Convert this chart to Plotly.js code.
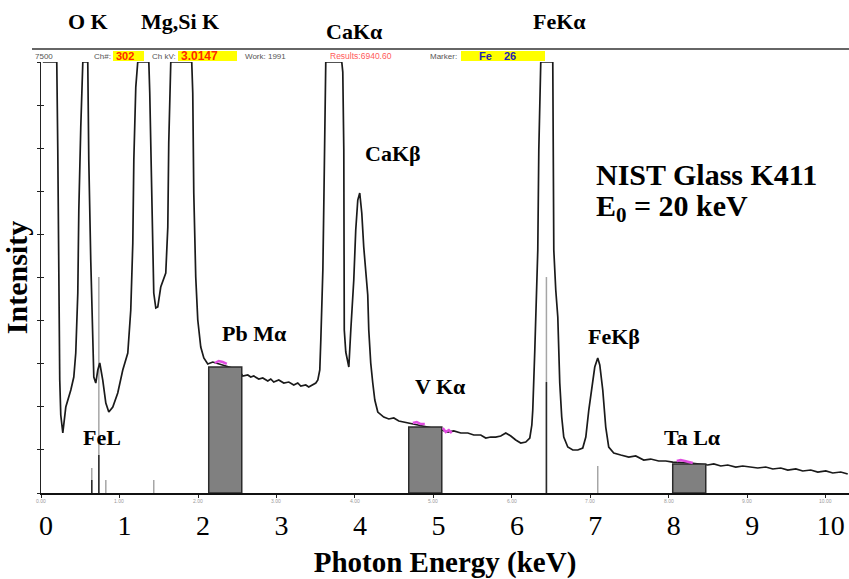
<!DOCTYPE html>
<html>
<head>
<meta charset="utf-8">
<script src="https://cdn.plot.ly/plotly-3.0.1.min.js"></script>
<style>html,body{margin:0;padding:0;background:#fff;}#chart{width:849px;height:579px;}</style>
</head>
<body>
<div id="chart"></div>
<script>
// ---- spectrum (photon energy keV, intensity counts; saturated channels clipped at 7500) ----
const energy = [0.022,0.200,0.213,0.226,0.238,0.251,0.277,0.315,0.379,0.417,0.442,0.468,0.481,0.506,0.532,0.595,0.608,0.633,0.659,0.672,0.697,0.723,0.748,0.786,0.825,0.863,0.914,0.977,1.041,1.105,1.143,1.169,1.182,1.207,1.232,1.373,1.385,1.411,1.424,1.436,1.462,1.487,1.525,1.589,1.615,1.627,1.653,1.920,1.933,1.946,1.971,1.997,2.035,2.074,2.124,2.188,2.353,2.519,2.570,2.634,2.672,2.710,2.774,2.825,2.889,2.927,2.965,3.029,3.093,3.157,3.220,3.271,3.310,3.373,3.411,3.462,3.501,3.527,3.552,3.565,3.591,3.604,3.615,3.628,3.832,3.845,3.858,3.864,3.883,3.909,3.922,3.947,3.985,4.010,4.036,4.061,4.087,4.112,4.138,4.163,4.176,4.201,4.227,4.253,4.291,4.329,4.367,4.431,4.495,4.559,4.622,4.686,4.902,5.106,5.183,5.259,5.349,5.438,5.514,5.603,5.667,5.730,5.794,5.858,5.922,5.986,6.049,6.113,6.177,6.228,6.254,6.266,6.292,6.330,6.343,6.368,6.521,6.522,6.534,6.559,6.585,6.610,6.635,6.661,6.712,6.776,6.840,6.903,6.942,6.980,7.031,7.056,7.094,7.120,7.158,7.196,7.234,7.298,7.387,7.489,7.578,7.680,7.769,7.871,7.961,8.050,8.280,8.496,8.573,8.662,8.751,8.853,8.942,9.044,9.133,9.235,9.325,9.427,9.516,9.618,9.707,9.809,9.898,10.000,10.089,10.191,10.280];
const counts = [7500,7500,5968,3706,1966,1357,1044,1496,1792,2018,2436,3480,4924,6368,7500,7500,5794,4054,2888,2018,1914,2140,2262,1966,1566,1409,1496,1740,2140,2436,3184,4350,5794,7064,7500,7500,6960,5220,4054,3480,3219,3236,3584,3828,4628,6090,7500,7500,6960,5220,3758,3010,2540,2349,2245,2279,2210,2140,2036,2053,2018,2036,1984,2001,1949,1984,1931,1966,1914,1931,1879,1914,1862,1879,1844,1879,1914,1966,2140,2662,3880,5098,6490,7500,7500,7325,5968,2836,2453,2262,2192,2836,3706,4576,5098,5220,4872,4280,3880,3445,2836,2262,1914,1618,1409,1357,1322,1288,1305,1253,1235,1218,1166,1096,1061,1079,1044,1044,1009,1009,957,974,974,992,1044,992,922,870,887,957,1183,1444,2488,4228,5968,7500,7500,7134,4228,3532,3062,1914,1322,974,800,748,748,783,974,1444,1914,2192,2349,2227,1792,1148,800,696,661,626,644,574,591,557,557,539,522,487,505,470,487,452,470,452,435,452,418,435,400,418,383,400,365,383,348,365,331];

// ---- region-of-interest bars (grey boxes) ----
const barLabels = ['Pb Mα', 'V Kα', 'Ta Lα'];
const barCenter = [2.347, 4.896, 8.260];
const barWidth = [0.421, 0.421, 0.421];
const barHeight = [2192, 1148, 505];

// ---- magenta ROI highlight fragments ----
const roiEnergy = [2.214,2.264,2.315,2.367,null,4.737,4.788,4.839,4.890,null,5.119,5.157,5.196,5.234,null,8.101,8.152,8.203,8.254,8.305];
const roiCounts = [2262,2297,2279,2245,null,1218,1235,1200,1200,null,1131,1061,1096,1044,null,557,574,557,539,522];

// ---- KLM marker lines ----
const markerEnergy = [0.646, 0.736, 0.825, 1.436, 6.440, 7.094];
const markerTop = [435, 3758, 226, 226, 3758, 470];
const markerDarkEnergy = [0.646, 0.736, 6.440];
const markerDarkTop = [226, 661, 1931];

// ---- axis ticks ----
const xTickVals = [0,1,2,3,4,5,6,7,8,9,10];
const xTickText = ['0','1','2','3','4','5','6','7','8','9','10'];
const smallTickText = ['0.00','1.00','2.00','3.00','4.00','5.00','6.00','7.00','8.00','9.00','10.00'];

// ---- peak labels ----
const peakLabels = ['O K','Mg,Si K','CaKα','FeKα','CaKβ','Pb Mα','V Kα','FeKβ','FeL','Ta Lα'];
const peakLabelX = [88,180,354,559,393,254,440,614,102,692];
const peakLabelY = [22,22,32,22,153,333,386,336,437,437];

function segs(xs, tops) {
  const x = [], y = [];
  xs.forEach((e, i) => { x.push(e, e, null); y.push(0, tops[i], null); });
  return {x, y};
}
const m1 = segs(markerEnergy, markerTop);
const m2 = segs(markerDarkEnergy, markerDarkTop);

const L = 41, R = 849, T = 62, B = 493;
const px = v => (v - L) / (R - L);
const py = v => (B - v) / (B - T);

const serif = 'Liberation Serif, Times New Roman, serif';
const sans = 'Liberation Sans, Arial, sans-serif';

const traces = [
  {type:'scatter', mode:'lines', x:m1.x, y:m1.y, line:{color:'#a6a6a6', width:1.5}, hoverinfo:'skip'},
  {type:'scatter', mode:'lines', x:m2.x, y:m2.y, line:{color:'#2a2a2a', width:1.5}, hoverinfo:'skip'},
  {type:'scatter', mode:'lines', x:energy, y:counts, line:{color:'#1a1a1a', width:1.7}},
  {type:'bar', x:barCenter, y:barHeight, width:barWidth, text:barLabels, textposition:'none', xaxis:'x2', yaxis:'y2',
   marker:{color:'#808080', line:{color:'#2b2b2b', width:1.5}}},
  {type:'scatter', mode:'lines', x:roiEnergy, y:roiCounts, xaxis:'x2', yaxis:'y2', connectgaps:false,
   line:{color:'#e04ce0', width:2.5}, hoverinfo:'skip'}
];

const annotations = [];
peakLabels.forEach((t, i) => annotations.push({
  text:t, xref:'paper', yref:'paper', x:px(peakLabelX[i]), y:py(peakLabelY[i]),
  xanchor:'center', yanchor:'middle', showarrow:false,
  font:{family:serif, size:22, color:'#000', weight:700}
}));
annotations.push({text:'NIST Glass K411', xref:'paper', yref:'paper', x:px(594), y:py(174), xanchor:'left', yanchor:'middle', showarrow:false, font:{family:serif, size:30, color:'#000', weight:700}});
annotations.push({text:'E<sub>0</sub> = 20 keV', xref:'paper', yref:'paper', x:px(594), y:py(208), xanchor:'left', yanchor:'middle', showarrow:false, font:{family:serif, size:30, color:'#000', weight:700}});
smallTickText.forEach((t, i) => annotations.push({
  text:t, xref:'paper', yref:'paper', x:px(L + xTickVals[i] * 78.47), y:py(501), xanchor:'center', yanchor:'middle', showarrow:false,
  font:{family:sans, size:5, color:'#9a9a9a'}
}));
// header strip
const hdr = [
  ['7500', 33, '#555', 8, 400],
  ['Ch#:', 92, '#555', 8, 400],
  ['302', 114, '#ff2a00', 11, 700],
  ['Ch kV:', 150, '#555', 8, 400],
  ['3.0147', 179, '#ff2a00', 12, 700],
  ['Work: 1991', 243, '#555', 8, 400],
  ['Results:6940.60', 328, '#ff5a5a', 8.5, 400],
  ['Marker:', 428, '#555', 8, 400],
  ['Fe', 477, '#2424b0', 11, 700],
  ['26', 502, '#2424b0', 11, 700]
];
hdr.forEach(h => annotations.push({text:h[0], xref:'paper', yref:'paper', x:px(h[1]), y:py(56), xanchor:'left', yanchor:'middle',
  showarrow:false, font:{family:sans, size:h[3], color:h[2], weight:h[4]}}));

const shapes = [
  {type:'line', xref:'paper', yref:'paper', x0:px(32), x1:1, y0:py(49), y1:py(49), line:{color:'#333', width:1.5}},
  {type:'rect', xref:'paper', yref:'paper', x0:px(113), x1:px(144), y0:py(61), y1:py(51), fillcolor:'#ffff00', line:{width:0}, layer:'below'},
  {type:'rect', xref:'paper', yref:'paper', x0:px(178), x1:px(237), y0:py(61), y1:py(51), fillcolor:'#ffff00', line:{width:0}, layer:'below'},
  {type:'rect', xref:'paper', yref:'paper', x0:px(461), x1:px(545), y0:py(61), y1:py(51), fillcolor:'#ffff00', line:{width:0}, layer:'below'}
];

const xr = [-0.001, 10.296];
const layout = {
  width:849, height:579,
  margin:{l:L, r:849-R, t:T, b:579-B, pad:0},
  paper_bgcolor:'#fff', plot_bgcolor:'rgba(0,0,0,0)',
  showlegend:false,
  xaxis:{range:xr, tickvals:xTickVals, ticktext:xTickText, ticks:'outside', ticklen:3, tickcolor:'#222',
    showline:true, linecolor:'#111', linewidth:2, showgrid:false, zeroline:false,
    tickfont:{family:serif, size:28, color:'#000'}, ticklabelstandoff:3, ticklabelshift:5,
    title:{text:'Photon Energy (keV)', font:{family:serif, size:29, color:'#000', weight:700}, standoff:12}},
  yaxis:{range:[0,7500], tick0:0, dtick:750, ticks:'outside', ticklen:3, tickcolor:'#222', showticklabels:false,
    showline:true, linecolor:'#222', linewidth:1.5, showgrid:false, zeroline:false,
    title:{text:'Intensity', font:{family:serif, size:30, color:'#000', weight:700}, standoff:6}},
  xaxis2:{overlaying:'x', range:xr, visible:false},
  yaxis2:{overlaying:'y', range:[0,7500], tick0:0, dtick:750, ticks:'inside', ticklen:3, tickcolor:'#222',
    showticklabels:false, showline:false, showgrid:false, zeroline:false},
  annotations, shapes
};

Plotly.newPlot('chart', traces, layout, {staticPlot:true, displayModeBar:false});
</script>
</body>
</html>
